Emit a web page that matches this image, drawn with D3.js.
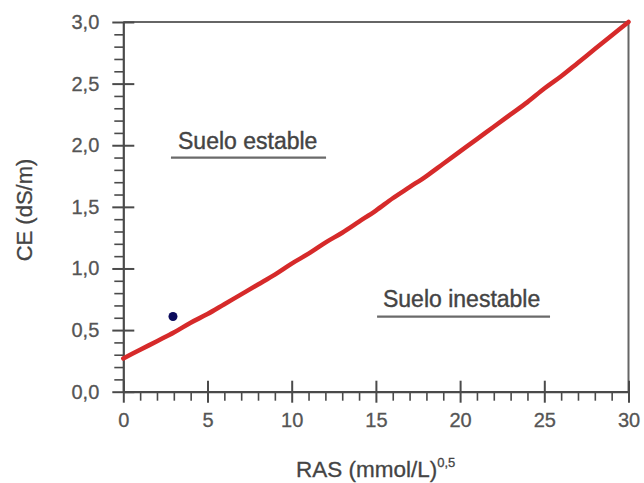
<!DOCTYPE html>
<html>
<head>
<meta charset="utf-8">
<script src="https://cdn.jsdelivr.net/npm/d3@7"></script>
<style>
  html, body { margin: 0; padding: 0; background: #fff; }
  svg { display: block; font-family: "Liberation Sans", Arial, sans-serif; }
</style>
</head>
<body>
<svg id="chart" width="644" height="483"></svg>
<script>
// RAS values along the threshold curve (mmol/L)^0.5
const ras = [0, 1, 2, 3, 4, 5, 6, 7, 8, 9, 10, 11, 12, 13, 14, 15, 16, 17, 18, 19, 20,
             21, 22, 23, 24, 25, 26, 27, 28, 29, 30];
// CE on the threshold curve (dS/m)
const ce = [0.27, 0.34, 0.41, 0.48, 0.56, 0.63, 0.71, 0.79, 0.87, 0.95, 1.04, 1.12, 1.21,
            1.29, 1.38, 1.47, 1.57, 1.66, 1.75, 1.85, 1.95, 2.05, 2.15, 2.25, 2.35, 2.46,
            2.56, 2.67, 2.78, 2.89, 3.00];
// Sample point
const sampleRas = [2.95];
const sampleCe = [0.61];
// Axis ticks
const xMajor = [0, 5, 10, 15, 20, 25, 30];
const yMajor = [0, 0.5, 1.0, 1.5, 2.0, 2.5, 3.0];
// Region labels
const regionNames = ["Suelo estable", "Suelo inestable"];

const svg = d3.select("#chart");
const x = d3.scaleLinear().domain([0, 30]).range([123.3, 628.5]);
const y = d3.scaleLinear().domain([0, 3]).range([391.7, 22]);

const axisColor = "#4a4a4a";
const fmt = d => d.toFixed(1).replace(".", ",");

// Frame: top and right edges
svg.append("path")
  .attr("d", `M${x(0)},${y(3)}H${x(30)}V${y(0)}`)
  .attr("fill", "none").attr("stroke", "#666").attr("stroke-width", 2);

// Minor ticks
const xMinor = d3.range(0, 31, 1).filter(v => v % 5 !== 0);
const yMinor = d3.range(0, 31, 1).map(v => v / 10).filter((v, i) => i % 5 !== 0);

svg.append("g").attr("transform", `translate(0,${y(0)})`)
  .call(d3.axisBottom(x).tickValues(xMinor).tickSize(9).tickFormat(""))
  .call(g => g.select(".domain").remove())
  .selectAll("line").attr("stroke", axisColor).attr("stroke-width", 1.6);

svg.append("g").attr("transform", `translate(${x(0)},0)`)
  .call(d3.axisLeft(y).tickValues(yMinor).tickSize(9).tickFormat(""))
  .call(g => g.select(".domain").remove())
  .selectAll("line").attr("stroke", axisColor).attr("stroke-width", 1.6);

// Major axes
const gx = svg.append("g").attr("transform", `translate(0,${y(0)})`)
  .call(d3.axisBottom(x).tickValues(xMajor).tickSize(11).tickSizeOuter(0).tickPadding(10).tickFormat(d => d));
const gy = svg.append("g").attr("transform", `translate(${x(0)},0)`)
  .call(d3.axisLeft(y).tickValues(yMajor).tickSize(11).tickSizeOuter(0).tickPadding(13).tickFormat(fmt));

[gx, gy].forEach(g => {
  g.select(".domain").attr("stroke", axisColor).attr("stroke-width", 2.2);
  g.selectAll(".tick line").attr("stroke", axisColor).attr("stroke-width", 2);
  g.selectAll(".tick text").attr("fill", "#555").attr("stroke", "#555")
    .attr("stroke-width", 0.3).style("font-size", "20px");
});
// Major ticks cross the axis line
gx.selectAll(".tick line").attr("y1", -11);
gy.selectAll(".tick line").attr("x1", 11);

// Axis titles
const xt = svg.append("text").attr("x", 296).attr("y", 477)
  .attr("fill", "#444").attr("stroke", "#444").attr("stroke-width", 0.3)
  .style("font-size", "22.5px").text("RAS (mmol/L)");
xt.append("tspan").attr("dy", -10).style("font-size", "13px").text("0,5");

svg.append("text")
  .attr("transform", `translate(32,210) rotate(-90)`)
  .attr("text-anchor", "middle")
  .attr("fill", "#444").attr("stroke", "#444").attr("stroke-width", 0.3)
  .style("font-size", "22px")
  .text("CE (dS/m)");

// Threshold curve
const pts = ras.map((r, i) => [r, ce[i]]);
svg.append("path")
  .datum(pts)
  .attr("d", d3.line().x(d => x(d[0])).y(d => y(d[1])).curve(d3.curveMonotoneX))
  .attr("fill", "none").attr("stroke", "#d62a2a").attr("stroke-width", 4.5)
  .attr("stroke-linecap", "round");

// Sample point
svg.selectAll("circle.sample").data(sampleRas).join("circle")
  .attr("class", "sample")
  .attr("cx", d => x(d)).attr("cy", (d, i) => y(sampleCe[i]))
  .attr("r", 4.5).attr("fill", "#0b0b5c");

// Region labels with underlines
const labelPos = [
  { tx: 3.25, ty: 1.97, u0: 2.83, u1: 12.04, uy: 1.90 },
  { tx: 15.42, ty: 0.69, u0: 15.07, u1: 25.34, uy: 0.61 }
];
regionNames.forEach((name, i) => {
  const p = labelPos[i];
  svg.append("text").attr("x", x(p.tx)).attr("y", y(p.ty))
    .attr("fill", "#444").attr("stroke", "#444").attr("stroke-width", 0.4)
    .style("font-size", "23px").text(name);
  svg.append("line")
    .attr("x1", x(p.u0)).attr("x2", x(p.u1))
    .attr("y1", y(p.uy)).attr("y2", y(p.uy))
    .attr("stroke", "#6a6a6a").attr("stroke-width", 2.2);
});
</script>
</body>
</html>
